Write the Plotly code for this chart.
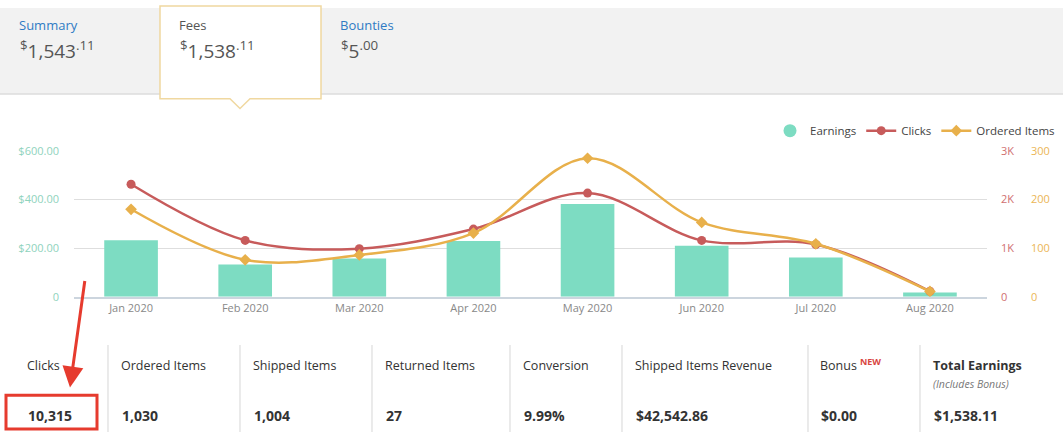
import plotly.graph_objects as go

# ---------------- data ----------------
months = ["Jan 2020", "Feb 2020", "Mar 2020", "Apr 2020", "May 2020", "Jun 2020", "Jul 2020", "Aug 2020"]
earnings = [233, 133, 157, 229, 382, 210, 162, 18]
clicks = [2314, 1160, 990, 1393, 2133, 1160, 1075, 113]
ordered_items = [180, 76, 86, 131, 285, 153, 109, 11]

y_left_ticks = [0, 200, 400, 600]
y_left_text = ["0", "$200.00", "$400.00", "$600.00"]
y_clicks_ticks = [0, 1000, 2000, 3000]
y_clicks_text = ["0", "1K", "2K", "3K"]
y_items_ticks = [0, 100, 200, 300]
y_items_text = ["0", "100", "200", "300"]

tab_names = ["Summary", "Fees", "Bounties"]
tab_whole = ["1,543", "1,538", "5"]
tab_cents = [".11", ".11", ".00"]

stat_labels = ["Clicks", "Ordered Items", "Shipped Items", "Returned Items", "Conversion",
               "Shipped Items Revenue", "Bonus", "Total Earnings"]
stat_values = ["10,315", "1,030", "1,004", "27", "9.99%", "$42,542.86", "$0.00", "$1,538.11"]

# ---------------- layout helpers ----------------
W, H = 1063, 439
FONT = "Open Sans"


def fx(x):
    return x / W


def fy(y):
    return 1 - y / H


TEAL = "#7ddcc2"
RED = "#c75b5b"
YEL = "#e8b04b"

fig = go.Figure()

fig.add_trace(go.Bar(x=months, y=earnings, name="Earnings", marker=dict(color=TEAL, line=dict(width=0)),
                     width=0.47, showlegend=False, yaxis="y"))
fig.add_trace(go.Scatter(x=[None], y=[None], mode="markers", name="Earnings",
                         marker=dict(color=TEAL, size=13, symbol="circle")))
fig.add_trace(go.Scatter(x=months, y=clicks, name="Clicks", mode="lines+markers", yaxis="y2",
                         line=dict(color=RED, width=2.5, shape="spline", smoothing=1.0),
                         marker=dict(color=RED, size=9, symbol="circle")))
fig.add_trace(go.Scatter(x=months, y=ordered_items, name="Ordered Items", mode="lines+markers", yaxis="y3",
                         line=dict(color=YEL, width=2.5, shape="spline", smoothing=1.0),
                         marker=dict(color=YEL, size=9, symbol="diamond")))

shapes = []
# header band
shapes.append(dict(type="rect", xref="paper", yref="paper", x0=0, x1=1, y0=fy(89), y1=1,
                   fillcolor="#f2f2f2", line=dict(width=0), layer="below"))
shapes.append(dict(type="line", xref="paper", yref="paper", x0=0, x1=1, y0=fy(89), y1=fy(89),
                   line=dict(color="#dddddd", width=1.5), layer="below"))
# selected tab box with pointer
pts = [(160, -2), (160, 94), (230, 94), (240, 104), (250, 94), (321, 94), (321, -2)]
path = "M " + " L ".join(f"{fx(a):.5f},{fy(b):.5f}" for a, b in pts) + " Z"
shapes.append(dict(type="path", xref="paper", yref="paper", path=path, fillcolor="white",
                   line=dict(color="#f0d8a0", width=1.5), layer="below"))
# table dividers
for xd in [108, 240, 372, 510, 622, 808, 920]:
    shapes.append(dict(type="line", xref="paper", yref="paper", x0=fx(xd), x1=fx(xd), y0=fy(349), y1=0,
                       line=dict(color="#dddddd", width=1.2)))
# red highlight box
shapes.append(dict(type="rect", xref="paper", yref="paper", x0=fx(6), x1=fx(97), y0=fy(401), y1=fy(436),
                   line=dict(color="#e63b2e", width=3), fillcolor="rgba(0,0,0,0)"))

ann = []
tab_x = [17, 177, 338]
for name, whole, cents, xx in zip(tab_names, tab_whole, tab_cents, tab_x):
    ann.append(dict(x=fx(xx), y=fy(18), xref="paper", yref="paper", text=name, showarrow=False,
                    xanchor="left", yanchor="middle",
                    font=dict(family=FONT, size=13, color="#555555" if name == "Fees" else "#2f7bc4")))
    ann.append(dict(x=fx(xx + 1), y=fy(44), xref="paper", yref="paper",
                    text=f"<sup>$</sup>{whole}<sup>{cents}</sup>", showarrow=False,
                    xanchor="left", yanchor="middle", font=dict(family=FONT, size=19, color="#555555")))

stat_x = [25, 119, 251, 383, 521, 633, 818, 931]
for lab, val, xx in zip(stat_labels, stat_values, stat_x):
    bold = lab == "Total Earnings"
    ann.append(dict(x=fx(xx), y=fy(370), xref="paper", yref="paper",
                    text=f"<b>{lab}</b>" if bold else lab, showarrow=False,
                    xanchor="left", yanchor="middle", font=dict(family=FONT, size=12.5, color="#333333")))
    ann.append(dict(x=fx(xx + 1), y=fy(422), xref="paper", yref="paper", text=f"<b>{val}</b>",
                    showarrow=False, xanchor="left", yanchor="middle",
                    font=dict(family=FONT, size=14, color="#333333")))
ann.append(dict(x=fx(858), y=fy(366), xref="paper", yref="paper", text="<b>NEW</b>", showarrow=False,
                xanchor="left", yanchor="middle", font=dict(family=FONT, size=9, color="#d9463f")))
ann.append(dict(x=fx(931), y=fy(389), xref="paper", yref="paper", text="<i>(Includes Bonus)</i>",
                showarrow=False, xanchor="left", yanchor="middle",
                font=dict(family=FONT, size=10.5, color="#777777")))
# red arrow
ann.append(dict(x=fx(70), y=fy(393), xref="paper", yref="paper", text="", showarrow=True,
                ax=15, ay=-108, axref="pixel", ayref="pixel", arrowhead=2, arrowsize=1.4,
                arrowwidth=3, arrowcolor="#e63b2e"))

fig.update_layout(
    width=W, height=H, margin=dict(l=0, r=0, t=0, b=0),
    paper_bgcolor="white", plot_bgcolor="white",
    font=dict(family=FONT, color="#444444"),
    shapes=shapes, annotations=ann, bargap=0.5,
    xaxis=dict(domain=[fx(74), fx(987)], type="category", range=[-0.5, 7.5], showgrid=False,
               showline=True, linecolor="#ccd5de", linewidth=1.5, ticks="", zeroline=False,
               tickfont=dict(family=FONT, size=11, color="#888888"), fixedrange=True),
    yaxis=dict(domain=[fy(299), fy(148)], range=[0, 600], tickvals=y_left_ticks, ticktext=y_left_text,
               showgrid=True, gridcolor="#dedede", gridwidth=1.2, zeroline=False, ticks="",
               ticklabelstandoff=14, tickfont=dict(family=FONT, size=11, color="#8fd3bd")),
    yaxis2=dict(overlaying="y", side="right", anchor="x", range=[0, 3000], tickvals=y_clicks_ticks,
                ticktext=y_clicks_text, showgrid=False, zeroline=False, ticks="", ticklabelstandoff=13,
                tickfont=dict(family=FONT, size=11, color="#d07070")),
    yaxis3=dict(overlaying="y", side="right", anchor="free", position=fx(1030), range=[0, 300],
                tickvals=y_items_ticks, ticktext=y_items_text, showgrid=False, zeroline=False, ticks="",
                tickfont=dict(family=FONT, size=11, color="#ebb656")),
    legend=dict(orientation="h", x=fx(1060), y=fy(112), xanchor="right", yanchor="top",
                font=dict(family=FONT, size=11.5, color="#444444"), bgcolor="rgba(0,0,0,0)",
                itemwidth=30, tracegroupgap=0),
    showlegend=True,
)

fig.write_html("out.html", config={"displayModeBar": False},
               post_script="document.body.style.margin='0';document.body.style.overflow='hidden';")
